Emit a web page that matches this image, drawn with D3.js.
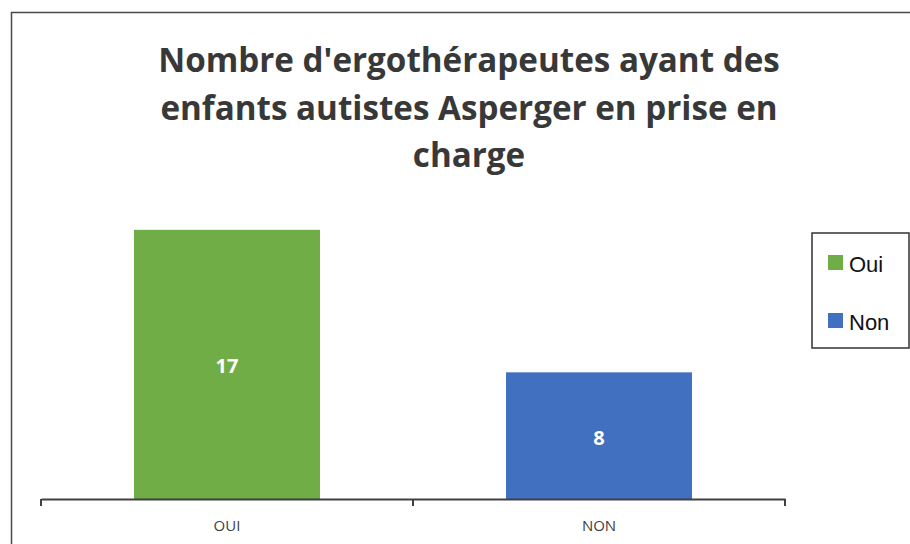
<!DOCTYPE html>
<html>
<head>
<meta charset="utf-8">
<script src="https://cdn.jsdelivr.net/npm/d3@7"></script>
<style>
  body { margin: 0; background: #fff; }
  svg { display: block; }
</style>
</head>
<body>
<div class="visuals"></div>
<script>
// values
const categories = ["OUI", "NON"];
const values = [17, 8];
const colors = ["#70AD47", "#4170C0"];
const legendLabels = ["Oui", "Non"];
const titleLines = [
  "Nombre d'ergothérapeutes ayant des",
  "enfants autistes Asperger en prise en",
  "charge"
];

const width = 910;
const height = 544;

const svg = d3.select(".visuals")
  .append("svg")
  .attr("width", width)
  .attr("height", height);

// outer frame, runs off the right and bottom edge
svg.append("rect")
  .attr("x", 11.5)
  .attr("y", 12.5)
  .attr("width", 920)
  .attr("height", 560)
  .attr("fill", "#fff")
  .attr("stroke", "#4a4a4a")
  .attr("stroke-width", 1.5);

// title
const title = svg.append("g")
  .attr("font-family", "'Open Sans', sans-serif")
  .attr("font-weight", "bold")
  .attr("fill", "#383838")
  .attr("text-anchor", "middle");

title.selectAll("text")
  .data(titleLines)
  .enter()
  .append("text")
  .attr("x", 469)
  .attr("y", (d, i) => 72 + i * 47.5)
  .attr("font-size", 30)
  .text(d => d);

// fit the first line to the width seen in the picture (about 622px)
const w0 = title.select("text").node().getComputedTextLength();
const fs = 30 * 622 / w0;
title.selectAll("text").attr("font-size", fs);

// scales
const x = d3.scaleBand()
  .domain(categories)
  .range([41, 785])
  .paddingInner(0.5)
  .paddingOuter(0.25);

const y = d3.scaleLinear()
  .domain([0, 18])
  .range([499, 214]);

// bars
svg.selectAll("rect.bar")
  .data(values)
  .enter()
  .append("rect")
  .attr("class", "bar")
  .attr("x", (d, i) => x(categories[i]))
  .attr("y", d => y(d))
  .attr("width", x.bandwidth())
  .attr("height", d => y(0) - y(d))
  .attr("fill", (d, i) => colors[i]);

// value labels in the middle of the bars
svg.selectAll("text.value")
  .data(values)
  .enter()
  .append("text")
  .attr("class", "value")
  .attr("x", (d, i) => x(categories[i]) + x.bandwidth() / 2)
  .attr("y", d => (y(d) + y(0)) / 2 + 9)
  .attr("text-anchor", "middle")
  .attr("font-family", "'Open Sans', sans-serif")
  .attr("font-weight", "bold")
  .attr("font-size", 20)
  .attr("fill", "#fff")
  .text(d => d);

// x axis
const xAxis = svg.append("g")
  .attr("transform", `translate(0,${y(0)})`)
  .call(d3.axisBottom(x).tickSize(0).tickPadding(21));

xAxis.select(".domain")
  .attr("stroke", "#404040")
  .attr("stroke-width", 2);

xAxis.selectAll("text")
  .attr("font-family", "'Open Sans', sans-serif")
  .attr("font-size", 15)
  .attr("fill", "#404040");

// tick marks sit on the category boundaries
const bounds = d3.range(categories.length + 1).map(i => x.range()[0] + i * x.step());
xAxis.selectAll("line.bound")
  .data(bounds)
  .enter()
  .append("line")
  .attr("class", "bound")
  .attr("x1", d => d)
  .attr("x2", d => d)
  .attr("y1", 0)
  .attr("y2", 7)
  .attr("stroke", "#404040")
  .attr("stroke-width", 2);

// legend
const legend = svg.append("g");

legend.append("rect")
  .attr("x", 812)
  .attr("y", 233)
  .attr("width", 97)
  .attr("height", 115)
  .attr("fill", "#fff")
  .attr("stroke", "#333")
  .attr("stroke-width", 1.5);

const items = legend.selectAll("g.item")
  .data(legendLabels)
  .enter()
  .append("g")
  .attr("class", "item")
  .attr("transform", (d, i) => `translate(828,${255 + i * 58})`);

items.append("rect")
  .attr("width", 15)
  .attr("height", 15)
  .attr("fill", (d, i) => colors[i]);

items.append("text")
  .attr("x", 21)
  .attr("y", 17)
  .attr("font-family", "'Liberation Sans', Arial, sans-serif")
  .attr("font-size", 22)
  .attr("fill", "#111")
  .text(d => d);
</script>
</body>
</html>
